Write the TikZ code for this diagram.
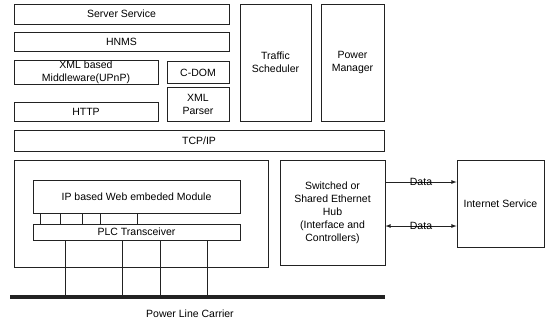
\documentclass[tikz,border=0pt]{standalone}
\usepackage{fontspec}
\setmainfont{Liberation Sans}
\usepackage{xcolor}
\definecolor{ink}{HTML}{222222}

\begin{document}
\begin{tikzpicture}[x=1pt,y=-1pt,
    blk/.style={draw=ink, line width=0.8pt, inner sep=1pt, align=center,
      font=\fontsize{10.5}{13}\selectfont},
    lbl/.style={font=\fontsize{10.5}{13}\selectfont, inner sep=1pt},
    wire/.style={draw=ink, line width=0.8pt}]
      \useasboundingbox (0,0) rectangle (545,322);
      % upper stack
      \node[blk, minimum width=215, minimum height=20] (serv) at (121.5,14) {Server Service};
      \node[blk, minimum width=215, minimum height=19] (hnms) at (121.5,41.5) {HNMS};
      \node[blk, minimum width=144, minimum height=23] (xml) at (86,72.5) {XML based\\Middleware(UPnP)};
      \node[blk, minimum width=62, minimum height=22] (cdom) at (198,72.5) {C-DOM};
      \node[blk, minimum width=62, minimum height=34] (parser) at (198,104) {XML\\Parser};
      \node[blk, minimum width=144, minimum height=19] (http) at (86,111.5) {HTTP};
      \node[blk, minimum width=71, minimum height=117] (traffic) at (275.5,62.5) {Traffic\\Scheduler};
      \node[blk, minimum width=63, minimum height=117] (power) at (352.5,62.5) {Power\\Manager};
      \node[blk, minimum width=370, minimum height=21] (tcp) at (199,140.5) {TCP/IP};
      % lower part
      \node[blk, minimum width=254, minimum height=107] (outer) at (141,213.5) {};
      \node[blk, minimum width=207, minimum height=33] (web) at (136.5,196.5) {IP based Web embeded Module};
      \node[blk, minimum width=207, minimum height=16] (plc) at (136.5,232) {PLC Transceiver};
      \node[blk, minimum width=105, minimum height=105] (hub) at (332.5,212.5)
        {Switched or\\Shared Ethernet\\Hub\\(Interface and\\Controllers)};
      \node[blk, minimum width=87, minimum height=87] (inet) at (500.5,203.5) {Internet Service};
      \coordinate (busl) at (10,297);
      \coordinate (busr) at (385,297);
      \draw[ink, line width=3.5pt] (busl) -- (busr);
      \node[lbl] (carrier) at (190,314) {Power Line Carrier};
      \foreach \x in {40,60,82,100,137}
        \draw[wire] (\x,0 |- web.south) -- (\x,0 |- plc.north);
      \foreach \x in {65,122,160,207}
        \draw[wire] (\x,0 |- plc.south) -- (\x,0 |- busl);
      \draw[wire, -latex] (hub.east |- 0,182) -- (inet.west |- 0,182)
        node[lbl, midway] (d1) {Data};
      \draw[wire, latex-latex] (hub.east |- 0,226) -- (inet.west |- 0,226)
        node[lbl, midway] (d2) {Data};
    \end{tikzpicture}
\end{document}
